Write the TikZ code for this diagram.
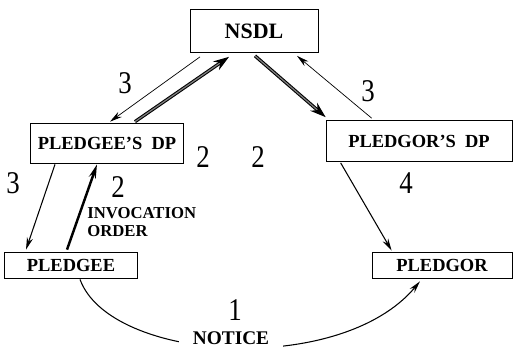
\documentclass[tikz,border=0pt]{standalone}
\usepackage{fontspec}
\setmainfont{Liberation Serif}
\usetikzlibrary{arrows.meta,calc}

\newcommand{\stepno}[1]{\scalebox{0.85}[1]{#1}}

\begin{document}
\begin{tikzpicture}[x=0.02cm, y=-0.02cm,
    box/.style={rectangle, draw, thin, inner sep=0pt, font=\fontsize{10.5}{12}\selectfont\bfseries},
    num/.style={font=\fontsize{18}{20}\selectfont, inner sep=0pt},
    tag/.style={font=\fontsize{9.5}{10.5}\selectfont\bfseries, inner sep=0pt, align=left},
    arrow/.style={-{Stealth[length=7pt, width=3.5pt]}, semithick},
    dbl/.style={-{Stealth[length=9pt, width=6pt]}, double=gray, double distance=0.7pt, line width=0.6pt},
    heavy/.style={-{Stealth[length=8pt, width=4pt]}, line width=1.4pt}
]
\useasboundingbox (0,0) rectangle (515,352);

% Boxes
\node[box, minimum width=128*0.02cm, minimum height=43*0.02cm, font=\fontsize{12.5}{14}\selectfont\bfseries] (nsdl) at (254,31) {NSDL};
\node[box, minimum width=153*0.02cm, minimum height=40*0.02cm] (pledgeedp) at (107,143) {PLEDGEE'S\ \ DP};
\node[box, minimum width=186*0.02cm, minimum height=41*0.02cm] (pledgordp) at (419,141) {PLEDGOR'S\ \ DP};
\node[box, minimum width=133*0.02cm, minimum height=26*0.02cm] (pledgee) at (71,265) {PLEDGEE};
\node[box, minimum width=140*0.02cm, minimum height=26*0.02cm] (pledgor) at (442,265) {PLEDGOR};

% Arrows round NSDL
\draw[arrow, thin] ($(nsdl.south)+(-54,4)$) -- ($(pledgeedp.north)+(3,-1)$);
\draw[dbl] ($(pledgeedp.north)+(28,-1)$) -- ($(nsdl.south)+(-25,4)$);
\draw[dbl] ($(nsdl.south)+(1,3)$) -- ($(pledgordp.north west)+(0,-3)$);
\draw[arrow, thin] ($(pledgordp.north west)+(46,-2)$) -- ($(nsdl.south)+(43,3)$);

% Arrows to the clients
\draw[arrow] ($(pledgeedp.south)+(-52,1)$) -- ($(pledgee.north)+(-45,-2)$);
\draw[heavy] ($(pledgee.north)+(-4,-2)$) -- ($(pledgeedp.south)+(-10,1)$);
\draw[arrow] ($(pledgordp.south west)+(15,1)$) -- ($(pledgor.north west)+(20,-1)$);

% Notice
\draw[arrow] ($(pledgee.south)+(9,1)$) .. controls (110,362) and (340,377) .. ($(pledgor.south)+(-22,3)$);
\node[tag, fill=white, inner xsep=8pt, inner ysep=3pt, font=\fontsize{11}{12}\selectfont\bfseries] (notice) at (231,338) {NOTICE};

% Step numbers
\node[num] (n3a) at (125,83) {\stepno{3}};
\node[num] (n3b) at (368,91) {\stepno{3}};
\node[num] (n2a) at (203,157) {\stepno{2}};
\node[num] (n2b) at (258,157) {\stepno{2}};
\node[num] (n3c) at (13,183) {\stepno{3}};
\node[num] (n2c) at (118,187) {\stepno{2}};
\node[num] (n4) at (406,183) {\stepno{4}};
\node[num] (n1) at (235,310) {\stepno{1}};
\node[tag, anchor=north west] (invoc) at (87,207) {INVOCATION\\ORDER};

\end{tikzpicture}
\end{document}
